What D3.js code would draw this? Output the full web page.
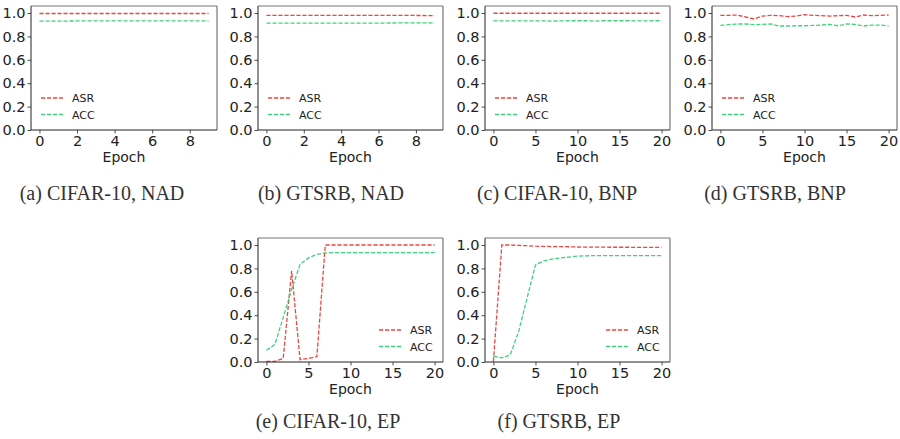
<!DOCTYPE html>
<html>
<head>
<meta charset="utf-8">
<script src="https://cdn.jsdelivr.net/npm/d3@7"></script>
<style>
  html, body { margin: 0; padding: 0; background: #fff; }
  svg { display: block; }
</style>
</head>
<body>
<svg id="chart" width="900" height="439"></svg>
<script>
// ---------- data ----------
const seriesNames = ["ASR", "ACC"];
const yTicks = [0, 0.2, 0.4, 0.6, 0.8, 1.0];
const xTicksShort = [0, 2, 4, 6, 8];
const xTicksLong = [0, 5, 10, 15, 20];

const epochs10 = [0, 1, 2, 3, 4, 5, 6, 7, 8, 9];
const epochs21 = [0, 1, 2, 3, 4, 5, 6, 7, 8, 9, 10, 11, 12, 13, 14, 15, 16, 17, 18, 19, 20];

const cifarNadASR = [0.996, 0.996, 0.996, 0.996, 0.996, 0.996, 0.996, 0.996, 0.996, 0.996];
const cifarNadACC = [0.931, 0.931, 0.932, 0.932, 0.932, 0.932, 0.932, 0.932, 0.932, 0.932];

const gtsrbNadASR = [0.980, 0.980, 0.980, 0.980, 0.980, 0.980, 0.980, 0.980, 0.979, 0.978];
const gtsrbNadACC = [0.913, 0.913, 0.914, 0.914, 0.914, 0.914, 0.914, 0.915, 0.915, 0.916];

const cifarBnpASR = [0.998, 0.998, 0.998, 0.998, 0.998, 0.998, 0.998, 0.998, 0.998, 0.998, 0.998,
                     0.998, 0.998, 0.998, 0.998, 0.998, 0.998, 0.998, 0.998, 0.998, 0.998];
const cifarBnpACC = [0.932, 0.932, 0.933, 0.933, 0.932, 0.933, 0.933, 0.931, 0.932, 0.934, 0.934,
                     0.934, 0.930, 0.934, 0.934, 0.934, 0.934, 0.933, 0.933, 0.934, 0.934];

const gtsrbBnpASR = [0.980, 0.980, 0.983, 0.966, 0.949, 0.974, 0.980, 0.977, 0.969, 0.974, 0.986,
                     0.980, 0.977, 0.974, 0.977, 0.980, 0.966, 0.983, 0.977, 0.980, 0.983];
const gtsrbBnpACC = [0.894, 0.900, 0.906, 0.906, 0.900, 0.903, 0.906, 0.889, 0.889, 0.891, 0.891,
                     0.894, 0.897, 0.903, 0.891, 0.906, 0.903, 0.889, 0.897, 0.897, 0.889];

const cifarEpASR = [0.005, 0.005, 0.03, 0.78, 0.02, 0.03, 0.045, 1.0, 1.0, 1.0, 1.0,
                    1.0, 1.0, 1.0, 1.0, 1.0, 1.0, 1.0, 1.0, 1.0, 1.0];
const cifarEpACC = [0.10, 0.15, 0.38, 0.62, 0.835, 0.89, 0.92, 0.932, 0.935, 0.935, 0.935,
                    0.935, 0.935, 0.935, 0.935, 0.935, 0.935, 0.935, 0.935, 0.935, 0.935];

const gtsrbEpASR = [0.005, 1.0, 1.0, 0.997, 0.994, 0.99, 0.988, 0.987, 0.986, 0.985, 0.983,
                    0.982, 0.982, 0.982, 0.981, 0.981, 0.981, 0.98, 0.98, 0.98, 0.98];
const gtsrbEpACC = [0.05, 0.035, 0.06, 0.26, 0.545, 0.83, 0.865, 0.88, 0.89, 0.897, 0.905,
                    0.908, 0.909, 0.91, 0.91, 0.91, 0.91, 0.91, 0.91, 0.91, 0.91];

const captions = ["(a) CIFAR-10, NAD", "(b) GTSRB, NAD", "(c) CIFAR-10, BNP",
                  "(d) GTSRB, BNP", "(e) CIFAR-10, EP", "(f) GTSRB, EP"];

// ---------- layout (positions/styles) ----------
const panels = [
  { x: epochs10, asr: cifarNadASR, acc: cifarNadACC, ticks: xTicksShort, dom: [-0.45, 9.45], l: 31,  r: 217, b: 130, legend: "left",  cap: captions[0], cx: 102, cy: 200 },
  { x: epochs10, asr: gtsrbNadASR, acc: gtsrbNadACC, ticks: xTicksShort, dom: [-0.45, 9.45], l: 258, r: 443, b: 130, legend: "left",  cap: captions[1], cx: 331, cy: 200 },
  { x: epochs21, asr: cifarBnpASR, acc: cifarBnpACC, ticks: xTicksLong,  dom: [-1, 21],       l: 485, r: 670, b: 130, legend: "left",  cap: captions[2], cx: 557, cy: 200 },
  { x: epochs21, asr: gtsrbBnpASR, acc: gtsrbBnpACC, ticks: xTicksLong,  dom: [-1, 21],       l: 712, r: 897, b: 130, legend: "left",  cap: captions[3], cx: 775, cy: 200 },
  { x: epochs21, asr: cifarEpASR,  acc: cifarEpACC,  ticks: xTicksLong,  dom: [-1, 21],       l: 258, r: 443, b: 362, legend: "right", cap: captions[4], cx: 328, cy: 428 },
  { x: epochs21, asr: gtsrbEpASR,  acc: gtsrbEpACC,  ticks: xTicksLong,  dom: [-1, 21],       l: 485, r: 670, b: 362, legend: "right", cap: captions[5], cx: 559, cy: 428 }
];
const PH = 124;
const colors = { ASR: "#e8342c", ACC: "#2ecc71" };
const dash = "4.2,1.8";

const svg = d3.select("#chart");

panels.forEach(p => {
  const top = p.b - PH;
  const xs = d3.scaleLinear().domain(p.dom).range([p.l, p.r]);
  const ys = d3.scaleLinear().domain([0, 1.06]).range([p.b, top]);
  const g = svg.append("g");

  // axes
  const xAxis = d3.axisBottom(xs).tickValues(p.ticks).tickFormat(d3.format("d")).tickSize(3.5).tickPadding(2);
  const yAxis = d3.axisLeft(ys).tickValues(yTicks).tickFormat(d3.format(".1f")).tickSize(3.5).tickPadding(2);
  const gx = g.append("g").attr("transform", `translate(0,${p.b})`).call(xAxis);
  const gy = g.append("g").attr("transform", `translate(${p.l},0)`).call(yAxis);
  [gx, gy].forEach(a => {
    a.select(".domain").remove();
    a.selectAll(".tick line").attr("stroke", "#222").attr("stroke-width", 0.8);
    a.selectAll(".tick text").attr("fill", "#222").style("font-family", "DejaVu Sans").style("font-size", "14.5px");
  });

  // lines
  const data = p.x.map((e, i) => ({ e, asr: p.asr[i], acc: p.acc[i] }));
  [["ASR", "asr"], ["ACC", "acc"]].forEach(([name, key]) => {
    const line = d3.line().x(d => xs(d.e)).y(d => ys(d[key]));
    g.append("path").datum(data).attr("d", line)
      .attr("fill", "none").attr("stroke", colors[name]).attr("stroke-width", 1.3)
      .attr("stroke-dasharray", dash).attr("opacity", 0.9);
  });

  // frame
  g.append("line").attr("x1", p.l).attr("x2", p.r).attr("y1", top).attr("y2", top).attr("stroke", "#777").attr("stroke-width", 1.2);
  g.append("line").attr("x1", p.r).attr("x2", p.r).attr("y1", top).attr("y2", p.b).attr("stroke", "#777").attr("stroke-width", 1.2);
  g.append("line").attr("x1", p.l).attr("x2", p.r).attr("y1", p.b).attr("y2", p.b).attr("stroke", "#222").attr("stroke-width", 1);
  g.append("line").attr("x1", p.l).attr("x2", p.l).attr("y1", top).attr("y2", p.b).attr("stroke", "#222").attr("stroke-width", 1);

  // x label
  g.append("text").attr("x", (p.l + p.r) / 2).attr("y", p.b + 32)
    .attr("text-anchor", "middle").attr("fill", "#222")
    .style("font-family", "DejaVu Sans").style("font-size", "14px").text("Epoch");

  // legend
  const lx = p.legend === "left" ? p.l + 10 : p.r - 64;
  seriesNames.forEach((name, i) => {
    const ly = p.b - 32 + i * 16.5;
    g.append("line").attr("x1", lx).attr("x2", lx + 22).attr("y1", ly).attr("y2", ly)
      .attr("stroke", colors[name]).attr("stroke-width", 1.3).attr("stroke-dasharray", dash).attr("opacity", 0.9);
    g.append("text").attr("x", lx + 31).attr("y", ly + 4)
      .attr("fill", "#222").style("font-family", "DejaVu Sans").style("font-size", "11px").text(name);
  });

  // caption
  svg.append("text").attr("x", p.cx).attr("y", p.cy).attr("text-anchor", "middle")
    .attr("fill", "#333").style("font-family", "Liberation Serif").style("font-size", "20px").text(p.cap);
});
</script>
</body>
</html>
